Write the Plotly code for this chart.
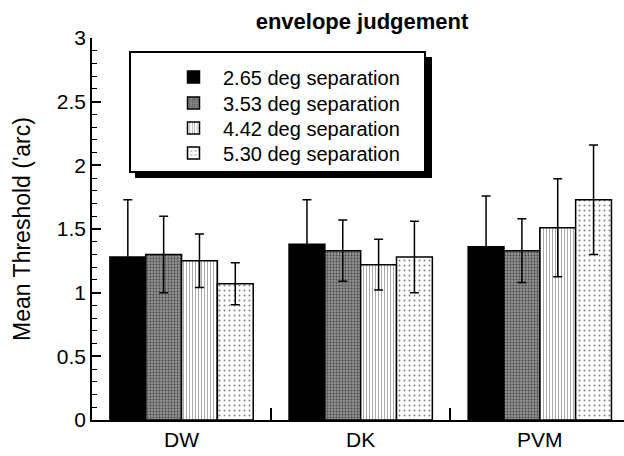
import plotly.graph_objects as go

categories = ["DW", "DK", "PVM"]
series_names = ["2.65 deg separation", "3.53 deg separation",
                "4.42 deg separation", "5.30 deg separation"]
means = [
    [1.28, 1.38, 1.36],
    [1.30, 1.33, 1.33],
    [1.25, 1.22, 1.51],
    [1.07, 1.28, 1.73],
]
errors = [
    [0.45, 0.35, 0.40],
    [0.30, 0.24, 0.25],
    [0.21, 0.20, 0.385],
    [0.165, 0.28, 0.43],
]
y_ticks = [0, 0.5, 1, 1.5, 2, 2.5, 3]

W, H = 624, 456
L, R, T, B = 92, 0, 38, 36
pw, ph = W - L - R, H - T - B

styles = [
    dict(color="black", pattern=dict(shape="")),
    dict(color="#8f8f8f", pattern=dict(shape=".", fgcolor="black", size=3, solidity=0.3, fillmode="overlay")),
    dict(color="white", pattern=dict(shape="|", fgcolor="#555555", size=3, solidity=0.35, fillmode="overlay")),
    dict(color="white", pattern=dict(shape=".", fgcolor="black", size=5, solidity=0.12, fillmode="overlay")),
]

def px(x):
    return (x - L) / pw

def py(y):
    return (H - B - y) / ph

legend_rows = [77, 103, 128, 153]
legend_ids = ["legend", "legend2", "legend3", "legend4"]

fig = go.Figure()
for i, name in enumerate(series_names):
    st = styles[i]
    fig.add_trace(go.Bar(
        x=categories, y=means[i], name=name, legend=legend_ids[i],
        marker=dict(color=st["color"], pattern=st["pattern"],
                    line=dict(color="black", width=1.5)),
        error_y=dict(type="data", array=errors[i], color="black", thickness=1.5, width=4.5),
    ))

# legend box with drop shadow
fig.add_shape(type="rect", xref="paper", yref="paper",
              x0=px(135), x1=px(432), y0=py(178), y1=py(57),
              fillcolor="black", line=dict(width=0), layer="above")
fig.add_shape(type="rect", xref="paper", yref="paper",
              x0=px(130), x1=px(425), y0=py(172), y1=py(52),
              fillcolor="white", line=dict(color="black", width=2), layer="above")

legend_layout = {}
for lid, ry in zip(legend_ids, legend_rows):
    legend_layout[lid] = dict(x=px(164), y=py(ry), xanchor="left", yanchor="middle",
                              bgcolor="rgba(0,0,0,0)", borderwidth=0, itemwidth=49,
                              font=dict(size=20))

fig.update_layout(
    width=W, height=H,
    margin=dict(l=L, r=R, t=T, b=B),
    paper_bgcolor="white", plot_bgcolor="white",
    font=dict(family="Liberation Sans, Arial, sans-serif", size=20, color="black"),
    title=dict(text="<b>envelope judgement</b>", x=362 / W, xanchor="center",
               y=1 - 21 / H, yanchor="middle", font=dict(size=22)),
    barmode="group", bargap=0.2, bargroupgap=0,
    showlegend=True,
    xaxis=dict(range=[-0.5, 2.47], showline=True, linecolor="black", linewidth=1.5,
               ticks="inside", tickson="boundaries", ticklen=12, tickcolor="black",
               tickwidth=1.5, showgrid=False, zeroline=False,
               tickfont=dict(size=21)),
    yaxis=dict(range=[0, 3], tickvals=y_ticks, ticktext=[f"{v:g}" for v in y_ticks],
               showline=True, linecolor="black", linewidth=1.5,
               ticks="inside", ticklen=9, tickwidth=1.5, tickcolor="black",
               minor=dict(dtick=0.1, ticks="inside", ticklen=5, tickcolor="black", tickwidth=1),
               showgrid=False, zeroline=False, tickfont=dict(size=21),
               title=dict(text="Mean Threshold ('arc)", font=dict(size=23), standoff=20)),
    **legend_layout,
)

fig.write_html("out.html", config={"displayModeBar": False},
               post_script="document.body.style.margin='0';")
